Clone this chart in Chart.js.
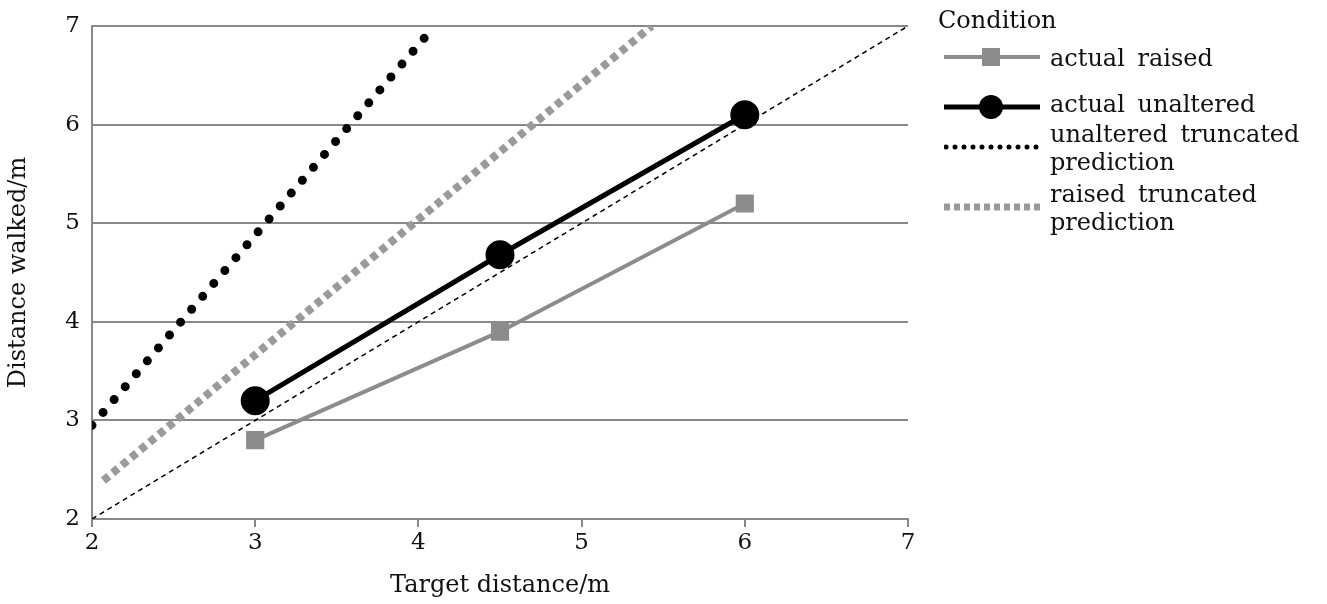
<!DOCTYPE html>
<html><head><meta charset="utf-8">
<script src="https://cdn.jsdelivr.net/npm/chart.js@4"></script>
<style>
body{margin:0;background:#fff;font-family:"DejaVu Serif",serif;}
#wrap{position:absolute;left:0;top:0;width:1327px;height:604px;}
#legend{position:absolute;left:938px;top:6px;font-size:24px;color:#111;line-height:28px;word-spacing:5px;}
.row{display:flex;align-items:flex-start;}
.sw{width:96px;height:26px;position:relative;margin-left:6px;margin-right:10px;flex:none;}
</style></head><body>
<div id="wrap"><canvas id="c" width="1327" height="604"></canvas></div>
<div id="legend">
<div style="margin-bottom:10px">Condition</div>
<div class="row" style="margin-bottom:18px"><div class="sw"><svg width="96" height="26"><line x1="0" y1="13" x2="96" y2="13" stroke="#8c8c8c" stroke-width="4"/><rect x="38" y="4" width="18" height="18" fill="#8c8c8c"/></svg></div><div>actual raised</div></div>
<div class="row" style="margin-bottom:0px"><div class="sw" style="margin-top:4px"><svg width="96" height="26"><line x1="0" y1="13" x2="96" y2="13" stroke="#000" stroke-width="5"/><circle cx="47" cy="13" r="12" fill="#000"/></svg></div><div>actual unaltered</div></div>
<div class="row" style="margin-bottom:4px"><div class="sw" style="margin-top:14px"><svg width="96" height="26"><line x1="2" y1="13" x2="96" y2="13" stroke="#000" stroke-width="5" stroke-dasharray="0 9" stroke-linecap="round"/></svg></div><div>unaltered truncated<br>prediction</div></div>
<div class="row"><div class="sw" style="margin-top:14px"><svg width="96" height="26"><line x1="0" y1="13" x2="96" y2="13" stroke="#999" stroke-width="7" stroke-dasharray="6 4"/></svg></div><div>raised truncated<br>prediction</div></div>
</div>
<script>
const targets=[3,4.5,6];
const actualRaised=[2.8,3.9,5.2];
const actualUnaltered=[3.2,4.68,6.1];
const identityX=[2,7], identityY=[2,7];
const unalteredPredX=[2,4.1], unalteredPredY=[2.95,7];
const raisedPredX=[2.07,5.43], raisedPredY=[2.39,7];
const xTicks=[2,3,4,5,6,7], yTicks=[2,3,4,5,6,7];
const pts=(xs,ys)=>xs.map((x,i)=>({x,y:ys[i]}));
const font={family:"DejaVu Serif",size:23};
new Chart(document.getElementById('c'),{
type:'scatter',
data:{datasets:[
{data:pts(identityX,identityY),showLine:true,borderColor:'#000',borderWidth:1.5,borderDash:[5,4],pointRadius:0},
{data:pts(unalteredPredX,unalteredPredY),showLine:true,borderColor:'#000',borderWidth:9,borderDash:[0,17],borderCapStyle:'round',pointRadius:0},
{data:pts(raisedPredX,raisedPredY),showLine:true,borderColor:'#9a9a9a',borderWidth:8,borderDash:[7,5],pointRadius:0},
{data:pts(targets,actualRaised),showLine:true,borderColor:'#8c8c8c',backgroundColor:'#8c8c8c',borderWidth:4,pointStyle:'rect',pointRadius:10},
{data:pts(targets,actualUnaltered),showLine:true,borderColor:'#000',backgroundColor:'#000',borderWidth:5,pointStyle:'circle',pointRadius:12},
]},
options:{responsive:false,animation:false,
layout:{padding:{left:0,right:419,top:26,bottom:0}},
plugins:{legend:{display:false},tooltip:{enabled:false}},
scales:{
x:{type:'linear',min:2,max:7,afterBuildTicks:a=>{a.ticks=xTicks.map(v=>({value:v}))},
 afterFit:a=>{a.height=85},
 grid:{display:true,drawOnChartArea:false,drawTicks:true,tickLength:8,color:'#888',lineWidth:2},
 border:{color:'#888',width:2},
 ticks:{font,color:'#111',padding:2},
 title:{display:true,text:'Target distance/m',font:{family:"DejaVu Serif",size:24},color:'#111',padding:{top:4}}},
y:{type:'linear',min:2,max:7,afterBuildTicks:a=>{a.ticks=yTicks.map(v=>({value:v}))},
 afterFit:a=>{a.width=92},
 grid:{color:'#888',lineWidth:2,drawTicks:false},
 border:{color:'#888',width:2},
 ticks:{font,color:'#111',padding:12},
 title:{display:true,text:'Distance walked/m',font:{family:"DejaVu Serif",size:24},color:'#111',padding:{bottom:2}}}
}}});
</script></body></html>
